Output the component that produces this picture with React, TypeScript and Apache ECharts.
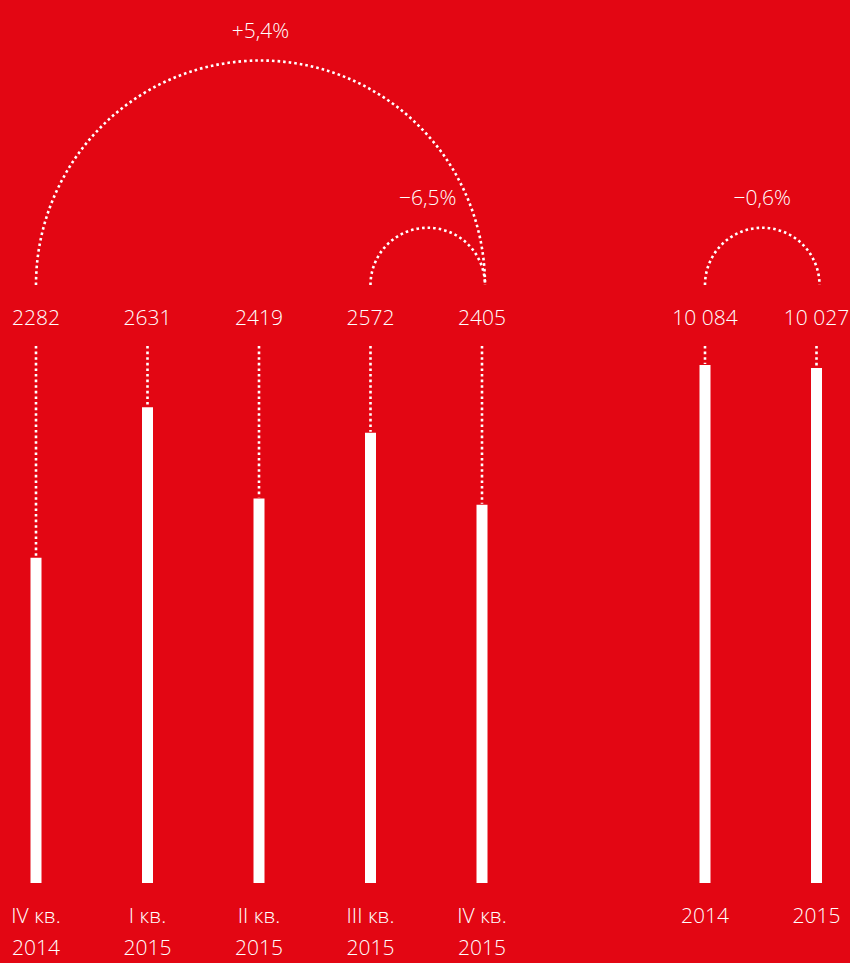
import React, { useEffect, useRef } from "react";
import * as echarts from "echarts";

const categories = [
  "IV кв.\n2014",
  "I кв.\n2015",
  "II кв.\n2015",
  "III кв.\n2015",
  "IV кв.\n2015",
  "",
  "2014",
  "2015",
];
const quarterIndex = [0, 1, 2, 3, 4];
const quarterValues = [2282, 2631, 2419, 2572, 2405];
const yearIndex = [6, 7];
const yearValues = [10084, 10027];
const changeFrom = [0, 3, 6];
const changeTo = [4, 4, 7];
const changeLabels = ["+5,4%", "−6,5%", "−0,6%"];

const BG = "#E30613";
const FONT = "'Open Sans', 'Noto Sans', sans-serif";
const FS = 21;
const DOTS = { stroke: "#fff", lineWidth: 2.6, lineDash: [2.6, 3] };

function fmt(v: number): string {
  const s = String(Math.round(v));
  if (s.length > 4) return s.replace(/\B(?=(\d{3})+(?!\d))/g, " ");
  return s;
}

export default function App() {
  const ref = useRef<HTMLDivElement>(null);
  useEffect(() => {
    document.body.style.margin = "0";
    document.body.style.background = BG;
    const chart = echarts.init(ref.current!, null, { renderer: "svg" });

    const quarterBars = categories.map((_, i) => {
      const k = quarterIndex.indexOf(i);
      return k >= 0 ? quarterValues[k] : null;
    });
    const yearBars = categories.map((_, i) => {
      const k = yearIndex.indexOf(i);
      return k >= 0 ? yearValues[k] : null;
    });

    const labelRender = (params: any, api: any) => {
      const idx = api.value(0);
      const val = api.value(1);
      const p = api.coord([idx, val]);
      return {
        type: "group",
        children: [
          {
            type: "text",
            x: p[0],
            y: 317,
            style: {
              text: fmt(val),
              fill: "#fff",
              fontSize: FS,
              fontFamily: FONT,
              fontWeight: 300,
              align: "center",
              verticalAlign: "middle",
            },
          },
          {
            type: "line",
            shape: { x1: p[0], y1: 346, x2: p[0], y2: p[1] - 1 },
            style: { ...DOTS },
          },
        ],
      };
    };

    const arcRender = (params: any, api: any) => {
      const i = params.dataIndex;
      const a = api.coord([changeFrom[i], 2000])[0];
      const b = api.coord([changeTo[i], 2000])[0] + 3;
      const cx = (a + b) / 2;
      const r = (b - a) / 2;
      const cy = 285;
      return {
        type: "group",
        children: [
          {
            type: "arc",
            shape: {
              cx,
              cy,
              r,
              startAngle: Math.PI,
              endAngle: 2 * Math.PI,
              clockwise: true,
            },
            style: { ...DOTS, fill: "none" },
          },
          {
            type: "text",
            x: cx,
            y: cy - r - 31,
            style: {
              text: changeLabels[i],
              fill: "#fff",
              fontSize: FS,
              fontFamily: FONT,
              fontWeight: 300,
              align: "center",
              verticalAlign: "middle",
            },
          },
        ],
      };
    };

    chart.setOption({
      animation: false,
      backgroundColor: BG,
      grid: { left: 36, right: 33.5, top: 365, bottom: 77 },
      xAxis: {
        type: "category",
        data: categories,
        boundaryGap: false,
        axisLine: { show: false },
        axisTick: { show: false },
        splitLine: { show: false },
        axisLabel: {
          color: "#fff",
          fontSize: FS,
          fontFamily: FONT,
          fontWeight: 300,
          lineHeight: 32,
          margin: 16,
          interval: 0,
        },
      },
      yAxis: [
        { type: "value", min: 1527, max: 2729, show: false, splitLine: { show: false } },
        { type: "value", min: 0, max: 10084, show: false, splitLine: { show: false } },
      ],
      series: [
        {
          type: "bar",
          yAxisIndex: 0,
          data: quarterBars,
          barWidth: 11,
          barGap: "-100%",
          itemStyle: { color: "#fff" },
        },
        {
          type: "bar",
          yAxisIndex: 1,
          data: yearBars,
          barWidth: 11,
          barGap: "-100%",
          itemStyle: { color: "#fff" },
        },
        {
          type: "custom",
          yAxisIndex: 0,
          clip: false,
          renderItem: labelRender,
          data: quarterIndex.map((x, k) => [x, quarterValues[k]]),
        },
        {
          type: "custom",
          yAxisIndex: 1,
          clip: false,
          renderItem: labelRender,
          data: yearIndex.map((x, k) => [x, yearValues[k]]),
        },
        {
          type: "custom",
          yAxisIndex: 0,
          clip: false,
          renderItem: arcRender,
          data: changeFrom.map((f) => [f, 2000]),
        },
      ],
    });
    return () => chart.dispose();
  }, []);
  return <div ref={ref} style={{ width: 850, height: 963 }} />;
}
